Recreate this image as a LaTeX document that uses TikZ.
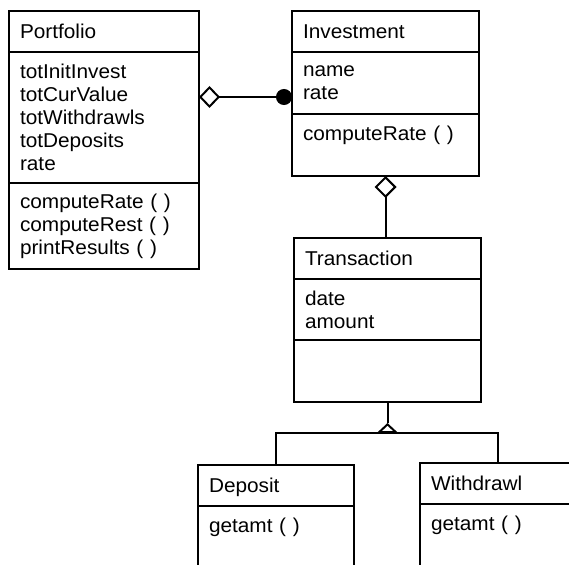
\documentclass[tikz,border=0pt]{standalone}
\usepackage{fontspec}
\setmainfont[FakeStretch=1.04]{Liberation Sans}
\usetikzlibrary{positioning, arrows.meta}

\begin{document}
\begin{tikzpicture}[ x=1pt, y=-1pt, node distance=0pt, box/.style={ rectangle, draw, line width=1.9pt, outer sep=0pt, inner xsep=11pt, inner ysep=4pt, align=left, font=\fontsize{20pt}{23pt}\selectfont }, title/.style={ box, anchor=north west, minimum height=41pt, text height=15pt, text depth=1pt }, link/.style={ line width=2pt }, aggr/.style={ link, {Diamond[open, length=22pt, width=22pt]}- } ]
\useasboundingbox (0,0) rectangle (569,564);
\clip (0,0) rectangle (569,564);

% --- Classe Portfolio ---
\node[title, text width=168pt] (portfolio) at (9,11) {Portfolio};

\node[box, text width=168pt, minimum height=131pt, below=of portfolio] (portfolioAttr) {%
totInitInvest\\ totCurValue\\ totWithdrawls\\ totDeposits\\ rate };

\node[box, text width=168pt, minimum height=86pt, below=of portfolioAttr] (portfolioOps) {%
computeRate ( )\\ computeRest ( )\\ printResults ( ) };


% --- Classe Investment ---
\node[title, text width=165pt] (investment) at (292,11) {Investment};

\node[box, text width=165pt, minimum height=62pt, below=of investment] (investmentAttr) {%
name\\ rate };

\node[box, text width=165pt, minimum height=62pt, text height=15pt, text depth=25pt, below=of investmentAttr] (investmentOps) {computeRate ( )};


% --- Classe Transaction ---
\node[title, text width=165pt, below=62pt of investmentOps, xshift=2pt] (transaction) {Transaction};

\node[box, text width=165pt, minimum height=61pt, below=of transaction] (transactionAttr) {%
date\\ amount };

\node[box, text width=165pt, minimum height=62pt, below=of transactionAttr] (transactionOps) {};


% --- Sottoclassi ---
\node[title, text width=134pt] (deposit) at (198,465) {Deposit};

\node[box, text width=134pt, minimum height=80pt, text height=15pt, text depth=43pt, below=of deposit] (depositOps) {getamt ( )};

\node[title, text width=134pt] (withdrawl) at (420,463) {Withdrawl};

\node[box, text width=134pt, minimum height=80pt, text height=15pt, text depth=43pt, below=of withdrawl] (withdrawlOps) {getamt ( )};


% --- Collegamenti ---
\coordinate (hold) at ([yshift=-14pt]investmentAttr.west);
\coordinate (branch) at ([yshift=-31pt]transactionOps.south);
\coordinate (apex) at ([yshift=10pt]branch);

\draw[link, {Diamond[open, length=21pt, width=22pt]}-{Circle[length=16pt]}] (hold -| portfolioAttr.east) -- (hold); \draw[aggr] (investmentOps.south) -- (investmentOps.south |- transaction.north); \draw[link] (transactionOps.south) -- (apex); \draw[link, -{Triangle[open, length=10pt, width=21pt]}] (branch) -- (apex); \draw[link] (deposit.north) |- (branch) -| (withdrawl.north);
\end{tikzpicture}
\end{document}
